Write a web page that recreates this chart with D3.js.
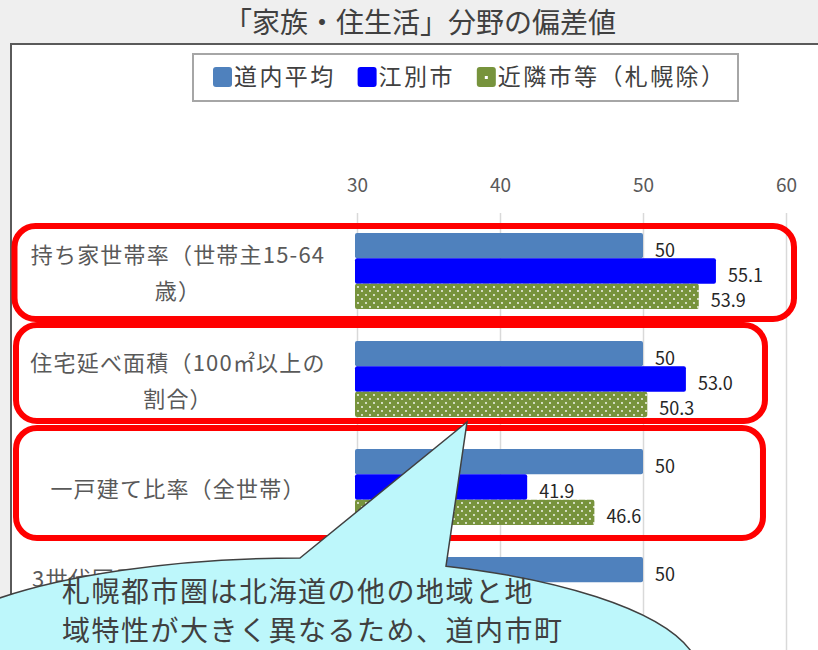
<!DOCTYPE html>
<html lang="ja">
<head>
<meta charset="utf-8">
<script src="https://cdn.jsdelivr.net/npm/d3@7"></script>
<style>
  html, body { margin: 0; padding: 0; background: #efefef; }
  svg { display: block; }
  text { font-family: "Noto Sans CJK JP", "Noto Sans", sans-serif; }
</style>
</head>
<body>
<svg id="chart" width="818" height="650"></svg>
<script>
// ---- data ----
const chartTitle = "「家族・住生活」分野の偏差値";
const categories = ["持ち家世帯率", "住宅延べ面積", "一戸建て比率", "3世代同居"];
const categoryLines = [
  ["持ち家世帯率（世帯主15-64", "歳）"],
  ["住宅延べ面積（100㎡以上の", "割合）"],
  ["一戸建て比率（全世帯）"],
  ["3世代同居世帯の割合（一般", "世帯）"]
];
const seriesNames = ["道内平均", "江別市", "近隣市等（札幌除）"];
const hokkaidoAvg = [50, 50, 50, 50];
const ebetsu = [55.1, 53.0, 41.9, 40.8];
const neighbors = [53.9, 50.3, 46.6, 43.6];
const tickValues = [30, 40, 50, 60];
const calloutLines = ["札幌都市圏は北海道の他の地域と地", "域特性が大きく異なるため、道内市町"];

const seriesValues = [hokkaidoAvg, ebetsu, neighbors];
const seriesColors = ["#4f81bd", "#0000ff", "#77933c"];

const svg = d3.select("#chart");
const W = 818, H = 650;

// dotted fill for the third series
const defs = svg.append("defs");
const pat = defs.append("pattern")
  .attr("id", "dots").attr("patternUnits", "userSpaceOnUse")
  .attr("width", 8).attr("height", 8);
pat.append("rect").attr("width", 8).attr("height", 8).attr("fill", seriesColors[2]);
pat.append("circle").attr("cx", 2).attr("cy", 2).attr("r", 0.9).attr("fill", "#fff");
pat.append("circle").attr("cx", 6).attr("cy", 6).attr("r", 0.9).attr("fill", "#fff");
const fills = [seriesColors[0], seriesColors[1], "url(#dots)"];

// page background and title
svg.append("rect").attr("width", W).attr("height", H).attr("fill", "#efefef");
svg.append("text")
  .attr("x", 420).attr("y", 33)
  .attr("text-anchor", "middle")
  .attr("font-size", 28).attr("fill", "#404040")
  .text(chartTitle);

// white chart panel
svg.append("rect")
  .attr("x", 11).attr("y", 44).attr("width", W).attr("height", H)
  .attr("fill", "#fff").attr("stroke", "#5a5a5a").attr("stroke-width", 2);

// legend
const legend = svg.append("g");
legend.append("rect")
  .attr("x", 193).attr("y", 54).attr("width", 545).attr("height", 47)
  .attr("fill", "#fff").attr("stroke", "#a6a6a6").attr("stroke-width", 2);
let lx = 213;
seriesNames.forEach((name, i) => {
  legend.append("rect")
    .attr("x", lx).attr("y", 67).attr("width", 19).attr("height", 20).attr("rx", 3)
    .attr("fill", seriesColors[i]);
  if (i === 2) {
    legend.append("rect").attr("x", lx + 8).attr("y", 76).attr("width", 3).attr("height", 3).attr("fill", "#fff");
  }
  const t = legend.append("text")
    .attr("x", lx + 21).attr("y", 85)
    .attr("font-size", 23).attr("fill", "#404040")
    .attr("letter-spacing", 2.4)
    .text(name);
  lx += 21 + t.node().getComputedTextLength() + 22;
});

// scales
const x = d3.scaleLinear().domain([30, 60]).range([357, 786]);
const y = d3.scaleBand().domain(categories).range([233, 633]).paddingInner(0.296).paddingOuter(0);
const ys = d3.scaleBand().domain(d3.range(seriesNames.length)).range([0, y.bandwidth()]);

// axis on top with gridlines running down
const axisTopY = 213;
const axis = svg.append("g")
  .attr("transform", `translate(0,${axisTopY})`)
  .call(d3.axisTop(x).tickValues(tickValues).tickSizeInner(-(H - axisTopY)).tickSizeOuter(0).tickPadding(21));
axis.select(".domain").remove();
axis.selectAll(".tick line").attr("stroke", "#d9d9d9").attr("stroke-width", 1.5);
axis.selectAll(".tick text")
  .attr("font-family", "'Noto Sans', sans-serif")
  .attr("font-size", 19).attr("fill", "#595959");

// red highlight frames around the first three categories
const frames = [
  { cat: 0, left: 14.5, right: 60.56, top: -7, bottom: 10 },
  { cat: 1, left: 16, right: 58.53, top: -16, bottom: 4 },
  { cat: 2, left: 16, right: 58.39, top: -21, bottom: 13 }
];
svg.append("g").selectAll("rect").data(frames).join("rect")
  .attr("x", d => d.left)
  .attr("y", d => y(categories[d.cat]) + d.top)
  .attr("width", d => x(d.right) - d.left)
  .attr("height", d => y.bandwidth() - d.top + d.bottom)
  .attr("rx", 21).attr("ry", 21)
  .attr("fill", "none").attr("stroke", "#ff0000").attr("stroke-width", 6);

// bars
const groups = svg.append("g").selectAll("g").data(categories).join("g")
  .attr("transform", d => `translate(0,${y(d)})`);
groups.each(function (cat, ci) {
  const g = d3.select(this);
  seriesValues.forEach((vals, si) => {
    const v = vals[ci];
    g.append("rect")
      .attr("x", x(30) - 2).attr("y", ys(si))
      .attr("width", x(v) - x(30) + 2).attr("height", ys.bandwidth())
      .attr("rx", 2)
      .attr("fill", fills[si]);
    g.append("text")
      .attr("x", x(v) + 12).attr("y", ys(si) + ys.bandwidth() / 2 + 3)
      .attr("dominant-baseline", "central")
      .attr("font-family", "'Noto Sans', sans-serif")
      .attr("font-size", 18).attr("fill", "#262626")
      .text(si === 0 ? d3.format("d")(v) : d3.format(".1f")(v));
  });
});

// category labels
svg.append("g").selectAll("text").data(categories).join("text")
  .attr("text-anchor", "middle")
  .attr("font-size", 22).attr("fill", "#595959")
  .attr("letter-spacing", 1.2)
  .each(function (cat, ci) {
    const lines = categoryLines[ci];
    const cy = y(cat) + y.bandwidth() / 2;
    const start = cy - (lines.length - 1) * 18;
    d3.select(this).selectAll("tspan").data(lines).join("tspan")
      .attr("x", 178)
      .attr("y", (d, i) => start + i * 36)
      .attr("dominant-baseline", "central")
      .text(d => d);
  });

// speech-bubble callout
const ell = { cx: 300, cy: 676, rx: 400, ry: 118 };
const onEll = px => [px, ell.cy - ell.ry * Math.sqrt(1 - ((px - ell.cx) / ell.rx) ** 2)];
const baseL = onEll(300), baseR = onEll(446), tip = [467, 422];
const bubble = d3.path();
bubble.moveTo(...baseL);
bubble.lineTo(...tip);
bubble.lineTo(...baseR);
svg.append("path")
  .attr("d", bubble.toString() + ` A ${ell.rx} ${ell.ry} 0 1 1 ${baseL[0]} ${baseL[1]} Z`)
  .attr("fill", "#bdf7fb").attr("stroke", "#404040").attr("stroke-width", 1.5);
svg.append("g").selectAll("text").data(calloutLines).join("text")
  .attr("x", 62).attr("y", (d, i) => 602 + i * 39)
  .attr("font-size", 28).attr("fill", "#404040")
  .attr("letter-spacing", 1.5)
  .text(d => d);
</script>
</body>
</html>
